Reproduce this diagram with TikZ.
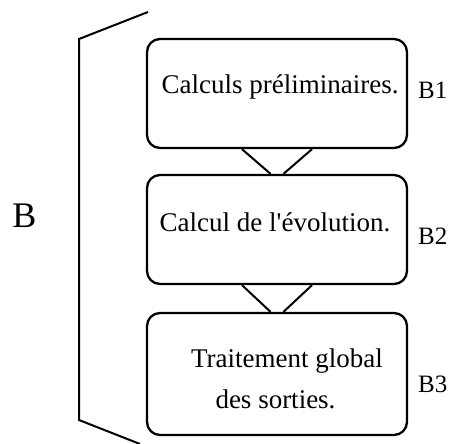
\documentclass[tikz,border=0pt]{standalone}
\usepackage{fontspec}
\setmainfont{Liberation Serif}
\begin{document}
\begin{tikzpicture}[x=1pt,y=-1pt,
  stepbox/.style={draw, line width=2.3pt, rounded corners=13pt,
    minimum width=260pt, inner sep=0pt},
  link/.style={line width=2pt},
  brace/.style={line width=2pt},
  boxtext/.style={anchor=base, inner sep=0pt, font=\fontsize{27}{41}\selectfont},
  tag/.style={anchor=base west, inner sep=0pt, font=\fontsize{25}{30}\selectfont}]
  \useasboundingbox (0,0) rectangle (466,444);

  % the three stages
  \node[stepbox, minimum height=109pt] (b1) at (277,93.5) {};
  \node[stepbox, minimum height=109pt] (b2) at (277,229.5) {};
  \node[stepbox, minimum height=122pt] (b3) at (277,374) {};

  \node[boxtext] (t1) at (280,94) {Calculs préliminaires.};
  \node[boxtext] (t2) at (275,231) {Calcul de l\textquotesingle évolution.};
  \node[boxtext] (t3a) at (287,367) {Traitement global};
  \node[boxtext] (t3b) at (275.5,408) {des sorties.};

  % funnels between consecutive stages
  \draw[link] ([xshift=-35pt]b1.south) -- ([xshift=-6.5pt]b2.north);
  \draw[link] ([xshift=35pt]b1.south) -- ([xshift=6.5pt]b2.north);
  \draw[link] ([xshift=-35pt]b2.south) -- ([xshift=-6.5pt]b3.north);
  \draw[link] ([xshift=35pt]b2.south) -- ([xshift=6.5pt]b3.north);

  % stage labels
  \node[tag] (l1) at (418,99) {B1};
  \node[tag] (l2) at (418,244) {B2};
  \node[tag] (l3) at (418,392) {B3};

  % bracket grouping the stages
  \coordinate (bt) at (148,12);
  \coordinate (bc1) at (79,39);
  \coordinate (bc2) at (79,420);
  \coordinate (bb) at (140,444);
  \draw[brace] (bt) -- (bc1) -- (bc2) -- (bb);
  \node[anchor=base, inner sep=0pt, font=\fontsize{36}{40}\selectfont] (B) at (24.5,227) {B};
\end{tikzpicture}
\end{document}
